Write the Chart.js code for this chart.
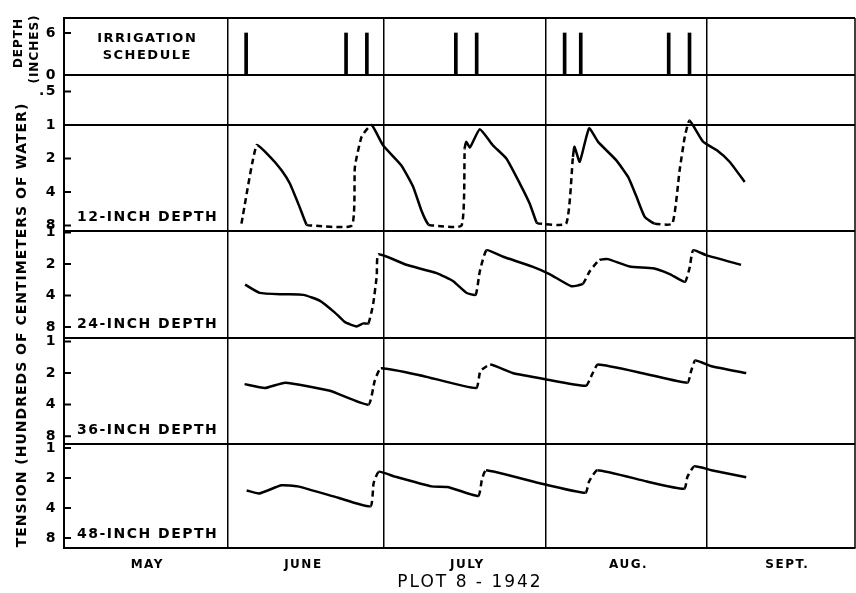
<!DOCTYPE html>
<html>
<head>
<meta charset="utf-8">
<style>
  html, body { margin: 0; padding: 0; background: #fff; }
</style>
</head>
<body>
<canvas id="chart" width="856" height="593"></canvas>
<script src="https://cdn.jsdelivr.net/npm/chart.js@4/dist/chart.umd.min.js"></script>
<script>
// x values are days counted from May 1
const monthStarts = [31, 61, 92, 123];
const monthMids = [15.5, 45.5, 77, 108, 138.5];
const monthNames = ["MAY", "JUNE", "JULY", "AUG.", "SEPT."];

const irrDays = [34.5, 53.7, 57.7, 74.8, 78.8, 95.7, 98.8, 115.7, 119.7];
const irrDepth = [6, 6, 6, 6, 6, 6, 6, 6, 6];

// tension, hundreds of cm of water; dashed = segment starting at that point is dashed
const days12 = [33.6, 36.5, 39.1, 41.3, 42.9, 44.8, 46.1, 46.8, 54.8, 55.4, 56.7, 58.6, 60.8, 64.3, 66.6, 68.2, 69.5, 70.2, 75.9, 76.5, 76.8, 77.5, 79.4, 81.9, 84.5, 87.1, 89.0, 90.3, 90.8, 96.0, 97.3, 97.6, 98.6, 100.4, 102.1, 105.6, 107.9, 109.5, 111.1, 113.0, 116.4, 117.8, 118.8, 119.7, 122.3, 124.9, 127.4, 130.3];
const tension12 = [7.7, 1.52, 1.93, 2.55, 3.36, 5.5, 7.85, 8.0, 8.0, 2.38, 1.27, 1.0, 1.52, 2.3, 3.6, 5.9, 7.85, 8.0, 8.0, 1.62, 1.41, 1.59, 1.09, 1.52, 2.0, 3.36, 5.1, 7.5, 7.7, 7.7, 1.93, 1.57, 2.14, 1.07, 1.41, 2.07, 2.93, 4.4, 6.7, 7.7, 7.7, 2.55, 1.27, 0.91, 1.41, 1.68, 2.14, 3.25];
const dashed12 = [1,0,0,0,0,0,1,1,1,1,1,0,0,0,0,0,1,1,1,0,0,0,0,0,0,0,0,1,1,1,0,0,0,0,0,0,0,0,0,1,1,1,1,0,0,0,0,0];

const days24 = [34.3, 37.1, 41.6, 45.5, 48.7, 51.5, 53.5, 55.7, 57.0, 58.0, 58.9, 59.6, 59.9, 65.3, 71.1, 74.3, 76.8, 78.6, 79.4, 80.7, 83.9, 89.5, 92.8, 97.0, 99.2, 100.5, 102.4, 104.0, 108.2, 112.7, 115.9, 118.8, 119.7, 120.4, 122.9, 129.6];
const tension24 = [3.15, 3.78, 3.9, 3.95, 4.5, 5.8, 7.2, 7.9, 7.4, 7.4, 4.85, 2.6, 1.62, 2.04, 2.45, 2.93, 3.77, 3.95, 2.36, 1.48, 1.71, 2.12, 2.5, 3.27, 3.1, 2.36, 1.83, 1.8, 2.12, 2.2, 2.5, 2.97, 2.2, 1.48, 1.65, 2.04];
const dashed24 = [0,0,0,0,0,0,0,0,0,1,1,1,0,0,0,0,0,1,1,0,0,0,0,0,1,1,0,0,0,0,0,1,1,0,0,0];

const days36 = [34.2, 38.1, 42.0, 50.6, 58.0, 59.2, 60.4, 68.5, 78.7, 79.5, 81.4, 85.7, 92.0, 99.8, 101.0, 102.1, 111.5, 119.3, 120.0, 120.8, 123.9, 130.6];
const tension36 = [2.55, 2.78, 2.47, 2.95, 4.0, 2.38, 1.8, 2.13, 2.78, 1.92, 1.66, 2.0, 2.29, 2.64, 2.05, 1.66, 2.05, 2.47, 1.92, 1.52, 1.72, 2.0];
const dashed36 = [0,0,0,0,1,1,0,0,1,1,0,0,0,1,1,0,0,1,1,0,0,0];

const days48 = [34.6, 37.0, 41.3, 44.4, 52.2, 58.4, 59.0, 60.0, 63.1, 70.1, 73.2, 79.1, 79.8, 80.6, 90.3, 99.7, 100.4, 102.0, 111.5, 118.7, 119.3, 120.6, 123.9, 130.6];
const tension48 = [2.67, 2.86, 2.37, 2.43, 3.16, 3.85, 2.25, 1.73, 1.94, 2.43, 2.46, 3.03, 2.09, 1.67, 2.22, 2.82, 2.17, 1.67, 2.17, 2.57, 1.94, 1.53, 1.67, 1.97];
const dashed48 = [0,0,0,0,0,1,1,0,0,0,0,1,1,0,0,1,1,0,0,1,1,0,0,0];

const irrTicks = [0, 6];
const ticks12 = [0.5, 1, 2, 4, 8];
const ticksDeep = [1, 2, 4, 8];
const depthNames = ["12-INCH DEPTH", "24-INCH DEPTH", "36-INCH DEPTH", "48-INCH DEPTH"];

const FONT = '"DejaVu Sans", sans-serif';
Chart.defaults.color = '#000';
Chart.defaults.font.family = FONT;

function series(days, vals, dashed, axis) {
  return {
    type: 'line',
    yAxisID: axis,
    data: days.map((d, i) => ({ x: d, y: vals[i] })),
    borderColor: '#000',
    borderWidth: 2.5,
    pointRadius: 0,
    tension: 0.15,
    segment: { borderDash: c => dashed[c.p0DataIndex] ? [6, 4] : undefined }
  };
}

function tickLabel(v) {
  return v < 1 ? String(v).replace('0.', '.') : String(v);
}

function panelAxis(type, min, max, weight, stackWeight, tickVals, gridAt) {
  return {
    type: type,
    position: 'left',
    stack: 'panels',
    weight: weight,
    stackWeight: stackWeight,
    reverse: type === 'logarithmic',
    min: min,
    max: max,
    afterFit: s => { s.width = 64; },
    afterBuildTicks: s => { s.ticks = tickVals.map(v => ({ value: v })); },
    ticks: {
      autoSkip: false,
      padding: 7,
      font: { size: 14, weight: 'bold' },
      callback: v => tickLabel(v)
    },
    grid: {
      display: gridAt !== undefined,
      drawTicks: false,
      lineWidth: 2,
      color: c => (c.tick && c.tick.value === gridAt) ? '#000' : 'rgba(0,0,0,0)'
    },
    border: { display: true, color: '#000', width: 2 }
  };
}

const frame = {
  id: 'frame',
  beforeDraw(chart) {
    chart.ctx.letterSpacing = '1.5px';
  },
  afterDraw(chart) {
    const { ctx, chartArea: a, scales } = chart;
    const ids = ['yIrr', 'y12', 'y24', 'y36', 'y48'];
    ctx.save();
    ctx.strokeStyle = '#000';
    ctx.fillStyle = '#000';
    ctx.lineWidth = 2;
    ctx.beginPath();
    ids.forEach(id => {
      const s = scales[id];
      ctx.moveTo(a.left, s.top);
      ctx.lineTo(a.right, s.top);
      s.ticks.forEach(t => {
        const y = s.getPixelForValue(t.value);
        ctx.moveTo(a.left, y);
        ctx.lineTo(a.left + 7, y);
      });
    });
    ctx.stroke();
    ctx.lineWidth = 1.5;
    ctx.beginPath();
    ctx.moveTo(a.right, a.top);
    ctx.lineTo(a.right, a.bottom);
    ctx.stroke();

    // panel names
    ctx.font = 'bold 14px ' + FONT;
    ctx.letterSpacing = '1.5px';
    ctx.textAlign = 'left';
    ctx.textBaseline = 'alphabetic';
    ids.slice(1).forEach((id, i) => {
      ctx.fillText(depthNames[i], a.left + 13, scales[id].bottom - 10);
    });
    ctx.font = 'bold 13px ' + FONT;
    ctx.textAlign = 'center';
    const cx = scales.x.getPixelForValue(monthMids[0]);
    ctx.fillText('IRRIGATION', cx, scales.yIrr.top + 24);
    ctx.fillText('SCHEDULE', cx, scales.yIrr.top + 41);

    // rotated axis titles
    ctx.textBaseline = 'middle';
    const vText = (txt, x, y) => {
      ctx.save();
      ctx.translate(x, y);
      ctx.rotate(-Math.PI / 2);
      ctx.fillText(txt, 0, 0);
      ctx.restore();
    };
    ctx.font = 'bold 14px ' + FONT;
    ctx.letterSpacing = '1px';
    vText('TENSION (HUNDREDS OF CENTIMETERS OF WATER)', 22, 325);
    ctx.font = 'bold 12px ' + FONT;
    vText('DEPTH', 19, 43);
    vText('(INCHES)', 35, 49);

    ctx.font = '17px ' + FONT;
    ctx.letterSpacing = '2px';
    ctx.fillText('PLOT 8 - 1942', 470, 583);
    ctx.restore();
  }
};

new Chart(document.getElementById('chart'), {
  type: 'line',
  data: {
    datasets: [
      {
        type: 'bar',
        yAxisID: 'yIrr',
        data: irrDays.map((d, i) => ({ x: d, y: irrDepth[i] })),
        backgroundColor: '#000',
        barThickness: 3,
        grouped: false
      },
      series(days12, tension12, dashed12, 'y12'),
      series(days24, tension24, dashed24, 'y24'),
      series(days36, tension36, dashed36, 'y36'),
      series(days48, tension48, dashed48, 'y48')
    ]
  },
  options: {
    responsive: false,
    animation: false,
    layout: { padding: { left: 0, top: 18, right: 1, bottom: 21 } },
    plugins: { legend: { display: false }, tooltip: { enabled: false } },
    scales: {
      x: {
        type: 'linear',
        min: -0.5,
        max: 151.5,
        offset: false,
        afterFit: s => { s.height = 24; },
        afterBuildTicks: s => {
          s.ticks = monthStarts.concat(monthMids).sort((p, q) => p - q).map(v => ({ value: v }));
        },
        ticks: {
          autoSkip: false,
          maxRotation: 0,
          padding: 10,
          font: { size: 12, weight: 'bold' },
          callback: v => {
            const i = monthMids.indexOf(v);
            return i < 0 ? '' : monthNames[i];
          }
        },
        grid: {
          offset: false,
          drawTicks: false,
          lineWidth: 1.5,
          color: c => (c.tick && monthStarts.includes(c.tick.value)) ? '#000' : 'rgba(0,0,0,0)'
        },
        border: { display: true, color: '#000', width: 2 }
      },
      y48: panelAxis('logarithmic', 0.912, 10.1, 1, 104, ticksDeep),
      y36: panelAxis('logarithmic', 0.926, 9.5, 2, 106, ticksDeep),
      y24: panelAxis('logarithmic', 0.97, 10.2, 3, 107, ticksDeep),
      y12: panelAxis('logarithmic', 0.355, 8.97, 4, 156, ticks12, 1),
      yIrr: panelAxis('linear', 0, 8.14, 5, 57, irrTicks)
    }
  },
  plugins: [frame]
});
</script>
</body>
</html>
